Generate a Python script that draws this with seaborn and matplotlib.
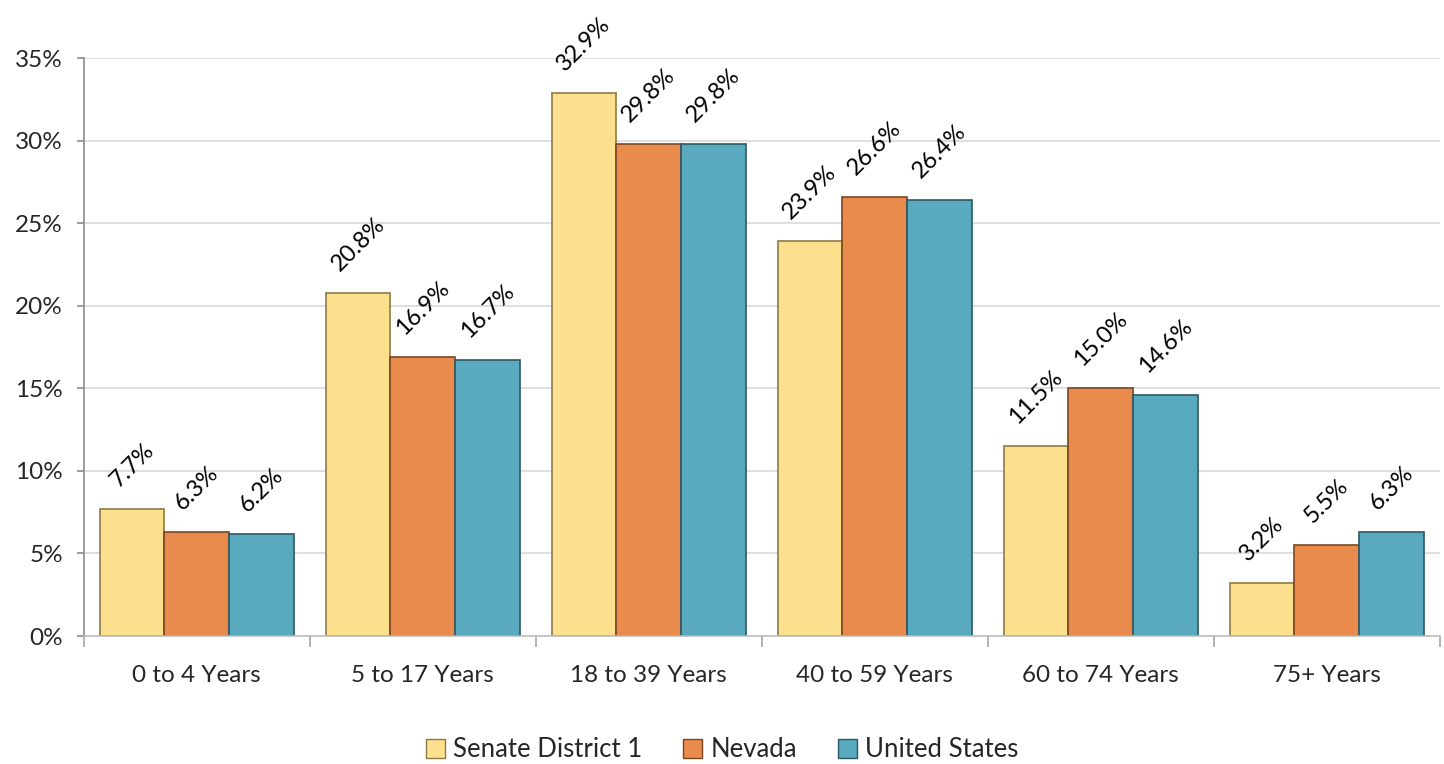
import matplotlib
matplotlib.use("Agg")
import matplotlib.pyplot as plt
import seaborn as sns
import pandas as pd
import numpy as np
from matplotlib.ticker import FuncFormatter, FixedLocator
from matplotlib.patches import Patch

categories = ["0 to 4 Years", "5 to 17 Years", "18 to 39 Years", "40 to 59 Years", "60 to 74 Years", "75+ Years"]
series = ["Senate District 1", "Nevada", "United States"]
senate = [7.7, 20.8, 32.9, 23.9, 11.5, 3.2]
nevada = [6.3, 16.9, 29.8, 26.6, 15.0, 5.5]
usa = [6.2, 16.7, 29.8, 26.4, 14.6, 6.3]

colors = ["#FCE08E", "#E88B4D", "#5AAABF"]
edges = ["#8C7A45", "#7A4523", "#2C5863"]

rows = []
for s, vals in zip(series, [senate, nevada, usa]):
    for c, v in zip(categories, vals):
        rows.append({"Age": c, "Series": s, "Value": v})
df = pd.DataFrame(rows)

sns.set_theme(style="white")
plt.rcParams['font.family'] = ['Lato', 'DejaVu Sans']

fig = plt.figure(figsize=(14.44, 7.64), dpi=100)
ax = fig.add_axes([0.058, 0.1675, 0.939, 0.7565])

sns.barplot(data=df, x="Age", y="Value", hue="Series", order=categories,
            hue_order=series, palette=colors, width=0.86, ax=ax,
            errorbar=None, saturation=1, legend=False)

for i, cont in enumerate(ax.containers):
    for p in cont:
        p.set_edgecolor(edges[i])
        p.set_linewidth(1.2)
    ax.bar_label(cont, labels=[f"{v:.1f}%" for v in cont.datavalues],
                 rotation=45, padding=13, fontsize=17, color="black")

ax.set_ylim(0, 35)
ax.set_xlim(-0.5, 5.5)
ax.set_yticks(np.arange(0, 36, 5))
ax.yaxis.set_major_formatter(FuncFormatter(lambda v, p: f"{int(v)}%"))
ax.grid(axis="y", color="#D9D9D9", linewidth=1.2)
ax.set_axisbelow(True)
ax.set_xlabel("")
ax.set_ylabel("")
for s in ["top", "right"]:
    ax.spines[s].set_visible(False)
ax.spines["left"].set_color("#8C8C8C")
ax.spines["left"].set_linewidth(1.2)
ax.spines["bottom"].set_color("#BFBFBF")
ax.spines["bottom"].set_linewidth(1.2)
ax.tick_params(axis="y", length=5, width=1.2, color="#8C8C8C", left=True,
               labelsize=17.5, pad=10)
ax.tick_params(axis="x", which="major", length=0, labelsize=17.5, pad=21)
ax.xaxis.set_minor_locator(FixedLocator(np.arange(-0.5, 6, 1)))
ax.tick_params(axis="x", which="minor", length=8, color="#A6A6A6", width=1.2, bottom=True)

handles = [Patch(facecolor=c, edgecolor=e, linewidth=1) for c, e in zip(colors, edges)]
fig.legend(handles, series, loc="lower center", ncol=3, frameon=False,
           fontsize=18.5, bbox_to_anchor=(0.5, -0.028), handlelength=0.75,
           handleheight=0.75, handletextpad=0.3, columnspacing=1.6)

fig.savefig("out.png", dpi=100)
